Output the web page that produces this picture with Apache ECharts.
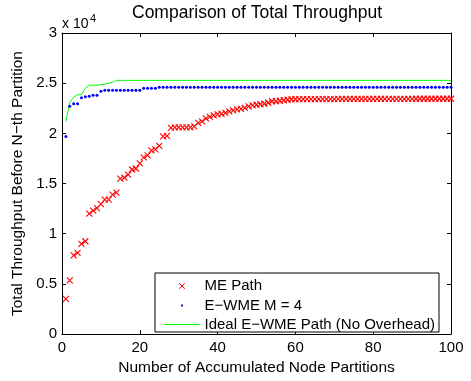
<!DOCTYPE html>
<html><head><meta charset="utf-8">
<script src="https://cdn.jsdelivr.net/npm/echarts@6/dist/echarts.min.js"></script>
<style>html,body{margin:0;padding:0;background:#fff}#c{width:471px;height:381px}</style>
</head><body><div id="c"></div>
<script>
const partitions = [1,2,3,4,5,6,7,8,9,10,11,12,13,14,15,16,17,18,19,20,21,22,23,24,25,26,27,28,29,30,31,32,33,34,35,36,37,38,39,40,41,42,43,44,45,46,47,48,49,50,51,52,53,54,55,56,57,58,59,60,61,62,63,64,65,66,67,68,69,70,71,72,73,74,75,76,77,78,79,80,81,82,83,84,85,86,87,88,89,90,91,92,93,94,95,96,97,98,99,100];
const mePath = [3500,5350,7850,8100,9000,9250,12000,12300,12550,12950,
  13400,13400,13900,14100,15500,15600,15900,16400,16500,17000,
  17600,17800,18300,18400,18750,19700,19750,20550,20600,20600,
  20600,20600,20600,20700,21050,21200,21500,21650,21800,21900,
  21950,22050,22200,22300,22400,22450,22550,22700,22800,22850,
  22900,22950,23050,23200,23200,23250,23300,23350,23400,23400,
  23420,23420,23420,23420,23420,23420,23420,23420,23420,23420,
  23430,23430,23430,23430,23430,23430,23430,23430,23430,23430,
  23440,23440,23440,23440,23440,23440,23440,23440,23440,23440,
  23450,23450,23450,23450,23450,23450,23450,23450,23450,23450];
const ewmeM4 = [19700,22700,22950,22950,23550,23650,23700,23800,23800,24200,
  24300,24300,24300,24300,24300,24300,24300,24300,24300,24300,
  24500,24500,24500,24500,24600,24600,24600,24600,24600,24600,
  24600,24600,24600,24600,24600,24600,24600,24600,24600,24600,
  24600,24600,24600,24600,24600,24600,24600,24600,24600,24600,
  24600,24600,24600,24600,24600,24600,24600,24600,24600,24600,
  24600,24600,24600,24600,24600,24600,24600,24600,24600,24600,
  24600,24600,24600,24600,24600,24600,24600,24600,24600,24600,
  24600,24600,24600,24600,24600,24600,24600,24600,24600,24600,
  24600,24600,24600,24600,24600,24600,24600,24600,24600,24600];
const idealPath = [21200,23100,23600,23850,23850,24500,24800,24800,24800,24850,
  24900,25000,25100,25280,25280,25280,25280,25280,25280,25280,
  25280,25280,25280,25280,25280,25280,25280,25280,25280,25280,
  25280,25280,25280,25280,25280,25280,25280,25280,25280,25280,
  25280,25280,25280,25280,25280,25280,25280,25280,25280,25280,
  25280,25280,25280,25280,25280,25280,25280,25280,25280,25280,
  25280,25280,25280,25280,25280,25280,25280,25280,25280,25280,
  25280,25280,25280,25280,25280,25280,25280,25280,25280,25280,
  25280,25280,25280,25280,25280,25280,25280,25280,25280,25280,
  25280,25280,25280,25280,25280,25280,25280,25280,25280,25280];
const xTickLabels = ['0','20','40','60','80','100'];
const yTickLabels = ['0','0.5','1','1.5','2','2.5','3'];
const seriesNames = ['ME Path','E\u2212WME M = 4','Ideal E\u2212WME Path (No Overhead)'];

const FONT = '"Liberation Sans", Arial, Helvetica, sans-serif';
const pairs = arr => partitions.map((x, i) => [x, arr[i]]);
const axisCommon = {
  axisLine: {show: true, onZero: false, lineStyle: {color: '#000', width: 1}},
  axisTick: {show: true, inside: true, length: 4, lineStyle: {color: '#000', width: 1}},
  splitLine: {show: false}
};
const chart = echarts.init(document.getElementById('c'), null, {renderer: 'canvas'});
chart.setOption({
  animation: false,
  backgroundColor: '#fff',
  grid: {left: 62, right: 20, top: 33, bottom: 42, containLabel: false},
  xAxis: [
    Object.assign({type: 'value', min: 0, max: 100, interval: 20, position: 'bottom',
      axisLabel: {margin: 6, color: '#000', fontSize: 15, fontFamily: FONT, formatter: v => xTickLabels[Math.round(v / 20)]},
      name: 'Number of Accumulated Node Partitions', nameLocation: 'middle', nameGap: 24,
      nameTextStyle: {color: '#000', fontSize: 15.5, fontFamily: FONT}}, axisCommon),
    Object.assign({type: 'value', min: 0, max: 100, interval: 20, position: 'top',
      axisLabel: {show: false}}, axisCommon)
  ],
  yAxis: [
    Object.assign({type: 'value', min: 0, max: 30000, interval: 5000, position: 'left',
      axisLabel: {margin: 5, color: '#000', fontSize: 15, fontFamily: FONT, formatter: v => yTickLabels[Math.round(v / 5000)]},
      name: 'Total Throughput Before N\u2212th Partition', nameLocation: 'middle', nameGap: 27,
      nameTextStyle: {color: '#000', fontSize: 15.5, fontFamily: FONT}}, axisCommon),
    Object.assign({type: 'value', min: 0, max: 30000, interval: 5000, position: 'right',
      axisLabel: {show: false}}, axisCommon)
  ],
  legend: {
    orient: 'vertical', left: 155, top: 273, padding: [5, 4, 0, 9],
    itemWidth: 35, itemHeight: 15, itemGap: 4,
    borderColor: '#000', borderWidth: 1, borderRadius: 0, backgroundColor: '#fff',
    selectedMode: false,
    textStyle: {fontSize: 15, fontFamily: FONT, color: '#000', lineHeight: 15},
    data: [
      {name: seriesNames[0], icon: 'path://M0,0L0,0M16,16L16,16M5,5L11,11M11,5L5,11',
        itemStyle: {color: 'rgba(0,0,0,0)', borderColor: '#ff0000', borderWidth: 1}},
      {name: seriesNames[1], icon: 'path://M0,0L0,0M16,16L16,16M7,7L9,7L9,9L7,9Z',
        itemStyle: {color: '#0000ff', borderWidth: 0}},
      {name: seriesNames[2], icon: 'path://M0,0L0,0M35,8L35,8M0,4L35,4',
        itemStyle: {color: 'rgba(0,0,0,0)', borderColor: '#00ff00', borderWidth: 1}}
    ]
  },
  graphic: [
    {type: 'text', x: 257, y: 13, style: {text: 'Comparison of Total Throughput', fontSize: 17.5, fontFamily: FONT, fill: '#000', align: 'center', verticalAlign: 'middle'}},
    {type: 'text', x: 62, y: 24, style: {text: 'x 10', fontSize: 14, fontFamily: FONT, fill: '#000', align: 'left', verticalAlign: 'middle'}},
    {type: 'text', x: 90, y: 19, style: {text: '4', fontSize: 11, fontFamily: FONT, fill: '#000', align: 'left', verticalAlign: 'middle'}}
  ],
  series: [
    {name: seriesNames[0], type: 'scatter', data: pairs(mePath), symbol: 'path://M0,0L1,1M1,0L0,1', symbolSize: 6,
      itemStyle: {color: 'rgba(0,0,0,0)', borderColor: '#ff0000', borderWidth: 1.1, opacity: 1}, z: 3},
    {name: seriesNames[1], type: 'scatter', data: pairs(ewmeM4), symbol: 'circle', symbolSize: 3,
      itemStyle: {color: '#0000ff', borderWidth: 0, opacity: 1}, z: 4},
    {name: seriesNames[2], type: 'line', data: pairs(idealPath), symbol: 'none', showSymbol: false,
      lineStyle: {color: '#00ff00', width: 1}, itemStyle: {color: '#00ff00'}, z: 2}
  ]
});
</script></body></html>
